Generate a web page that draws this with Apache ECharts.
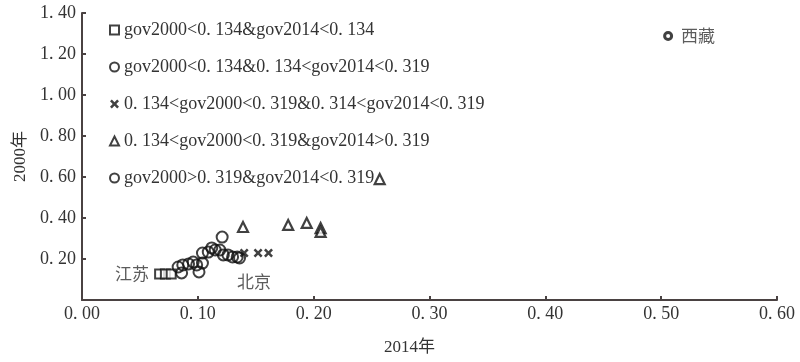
<!DOCTYPE html>
<html>
<head>
<meta charset="utf-8">
<script src="https://cdn.jsdelivr.net/npm/echarts@6/dist/echarts.min.js"></script>
<style>html,body{margin:0;padding:0;background:#fff}#c{width:800px;height:362px}</style>
</head>
<body>
<div id="c"></div>
<script>
// Series names (legend)
var seriesNames = [
  'gov2000<0. 134&gov2014<0. 134',
  'gov2000<0. 134&0. 134<gov2014<0. 319',
  '0. 134<gov2000<0. 319&0. 314<gov2014<0. 319',
  '0. 134<gov2000<0. 319&gov2014>0. 319',
  'gov2000>0. 319&gov2014<0. 319'
];
// x = 2014 value, y = 2000 value
var sqX = [0.067, 0.072, 0.077];
var sqY = [0.127, 0.127, 0.127];
var ciX = [0.083, 0.087, 0.086, 0.092, 0.096, 0.099, 0.101, 0.104, 0.104, 0.109, 0.112, 0.115, 0.119, 0.121, 0.122, 0.126, 0.130, 0.134, 0.136];
var ciY = [0.161, 0.171, 0.132, 0.176, 0.185, 0.171, 0.137, 0.180, 0.229, 0.234, 0.254, 0.244, 0.244, 0.307, 0.220, 0.220, 0.210, 0.210, 0.205];
var crX = [0.140, 0.152, 0.161];
var crY = [0.229, 0.229, 0.229];
var trX = [0.139, 0.178, 0.194, 0.206, 0.206, 0.257];
var trY = [0.356, 0.366, 0.376, 0.351, 0.332, 0.590];
var dmX = [0.506];
var dmY = [1.288];
// point labels
var labelJiangsu = '江苏';
var labelBeijing = '北京';
var labelXizang = '西藏';
// axis ticks
var xMin = 0, xMax = 0.6, xStep = 0.1;
var yMin = 0, yMax = 1.4, yStep = 0.2;

var SERIF = '"Liberation Serif","DejaVu Serif","Noto Sans CJK SC",serif';
var TXT = '#333';
var AX = '#4a4242';

function pairs(xs, ys) { return xs.map(function (x, i) { return [x, ys[i]]; }); }

var sqData = pairs(sqX, sqY);
sqData[0] = { value: sqData[0], label: { show: true, formatter: labelJiangsu, position: 'left', distance: 5 } };
var crData = pairs(crX, crY);
crData[1] = { value: crData[1], label: { show: true, formatter: labelBeijing, position: 'bottom', distance: 5, offset: [-4, 10] } };
var dmData = pairs(dmX, dmY);
dmData[0] = { value: dmData[0], label: { show: true, formatter: labelXizang, position: 'right', distance: 8 } };

var ptLabel = { color: TXT, fontSize: 17, fontFamily: '"Noto Sans CJK SC",sans-serif' };
var crossPath = 'path://M0,2 L2,0 L5,3 L8,0 L10,2 L7,5 L10,8 L8,10 L5,7 L2,10 L0,8 L3,5 Z';
function fmt(v) { return v.toFixed(2).replace('.', '. '); }

var chart = echarts.init(document.getElementById('c'), null, { renderer: 'canvas' });
chart.setOption({
  animation: false,
  backgroundColor: '#fff',
  grid: { left: 82, right: 23, top: 13, bottom: 62 },
  legend: {
    orient: 'vertical', left: 109, top: 21, itemGap: 19, padding: 0,
    itemWidth: 9, itemHeight: 9,
    textStyle: { color: TXT, fontSize: 18, fontFamily: SERIF },
    data: seriesNames
  },
  xAxis: {
    type: 'value', min: xMin, max: xMax, interval: xStep,
    name: '2014年', nameLocation: 'middle', nameGap: 39,
    nameTextStyle: { color: TXT, fontSize: 17, fontFamily: SERIF, padding: [0, 40, 0, 0] },
    axisLine: { lineStyle: { color: AX, width: 2 } },
    axisTick: { inside: true, length: 4, lineStyle: { color: AX, width: 2 } },
    axisLabel: { color: TXT, fontSize: 18, fontFamily: SERIF, margin: 5, formatter: fmt },
    splitLine: { show: false }
  },
  yAxis: {
    type: 'value', min: yMin, max: yMax, interval: yStep,
    name: '2000年', nameLocation: 'middle', nameGap: 51,
    nameTextStyle: { color: TXT, fontSize: 17, fontFamily: SERIF },
    axisLine: { show: true, lineStyle: { color: AX, width: 2 } },
    axisTick: { show: true, inside: true, length: 4, lineStyle: { color: AX, width: 2 } },
    axisLabel: { color: TXT, fontSize: 18, fontFamily: SERIF, margin: 6, showMinLabel: false, formatter: fmt },
    splitLine: { show: false }
  },
  series: [
    { name: seriesNames[0], type: 'scatter', symbol: 'rect', symbolSize: 9, data: sqData,
      itemStyle: { color: '#fff', borderColor: '#111', borderWidth: 2 }, label: ptLabel },
    { name: seriesNames[1], type: 'scatter', symbol: 'circle', symbolSize: 11, data: pairs(ciX, ciY),
      itemStyle: { color: 'rgba(255,255,255,0)', borderColor: '#111', borderWidth: 2 } },
    { name: seriesNames[2], type: 'scatter', symbol: crossPath, symbolSize: 9, data: crData,
      itemStyle: { color: '#111' }, label: ptLabel },
    { name: seriesNames[3], type: 'scatter', symbol: 'triangle', symbolSize: 10, data: pairs(trX, trY),
      itemStyle: { color: '#fff', borderColor: '#111', borderWidth: 2.2 } },
    { name: seriesNames[4], type: 'scatter', symbol: 'circle', symbolSize: 7, data: dmData,
      itemStyle: { color: '#fff', borderColor: '#111', borderWidth: 3 }, label: ptLabel }
  ]
});
</script>
</body>
</html>
